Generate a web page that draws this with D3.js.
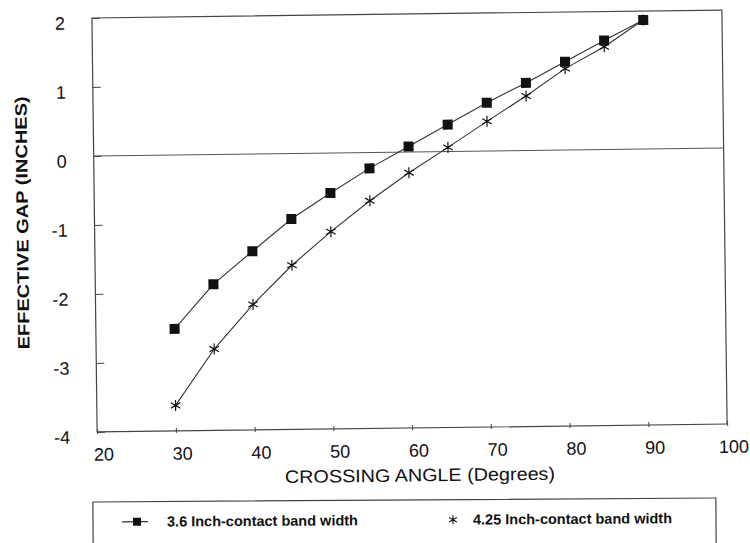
<!DOCTYPE html>
<html>
<head>
<meta charset="utf-8">
<script src="https://cdn.jsdelivr.net/npm/d3@7"></script>
<style>
  body { margin: 0; background: #fff; }
  svg { display: block; font-family: "Liberation Sans", Arial, sans-serif; }
</style>
</head>
<body>
<div id="chart"></div>
<script>
// crossing angle (degrees) for every plotted point
const angles = [30, 35, 40, 45, 50, 55, 60, 65, 70, 75, 80, 85, 90];
// effective gap (inches), 3.6 inch contact band
const gap36 = [-2.52, -1.88, -1.41, -0.95, -0.58, -0.23, 0.08, 0.39, 0.70, 0.98, 1.28, 1.58, 1.87];
// effective gap (inches), 4.25 inch contact band
const gap425 = [-3.63, -2.82, -2.18, -1.62, -1.14, -0.70, -0.30, 0.06, 0.43, 0.79, 1.18, 1.49, 1.87];
const xTicks = [20, 30, 40, 50, 60, 70, 80, 90, 100];
const yTicks = [-4, -3, -2, -1, 0, 1, 2];
const seriesNames = ['3.6 Inch-contact band width', '4.25 Inch-contact band width'];

const width = 750, height = 543;
const plot = { left: 94.5, right: 724.5, top: 14, bottom: 428 };

const svg = d3.select('#chart').append('svg')
  .attr('width', width)
  .attr('height', height);

// the scanned page sits slightly skewed
const g = svg.append('g')
  .attr('transform', 'rotate(-0.72, 409.5, 220)');

const x = d3.scaleLinear().domain([20, 100]).range([plot.left, plot.right]);
const y = d3.scaleLinear().domain([-4, 2]).range([plot.bottom, plot.top]);

// star marker: vertical bar plus two slanted bars
function starPath(r) {
  const dx = r * Math.cos(Math.PI / 6), dy = r * Math.sin(Math.PI / 6);
  return `M0,${-r}L0,${r}M${-dx},${-dy}L${dx},${dy}M${-dx},${dy}L${dx},${-dy}`;
}

// frame
g.append('rect')
  .attr('x', plot.left)
  .attr('y', plot.top)
  .attr('width', plot.right - plot.left)
  .attr('height', plot.bottom - plot.top)
  .attr('fill', 'none')
  .attr('stroke', '#444')
  .attr('stroke-width', 1.2);

// zero line
g.append('line')
  .attr('x1', x(20)).attr('x2', x(100))
  .attr('y1', y(0)).attr('y2', y(0))
  .attr('stroke', '#555')
  .attr('stroke-width', 1);

// x axis
const xAxis = g.append('g')
  .attr('transform', `translate(0,${plot.bottom})`)
  .call(d3.axisBottom(x).tickValues(xTicks).tickFormat((d) => String(d))
    .tickSizeInner(-3).tickSizeOuter(0).tickPadding(16));
xAxis.select('.domain').remove();
xAxis.selectAll('.tick line').attr('stroke', '#444').attr('y2', 2).attr('y1', -3);
xAxis.selectAll('.tick text')
  .attr('dx', 6)
  .attr('font-size', 18)
  .attr('font-family', '"Liberation Sans", Arial, sans-serif')
  .attr('fill', '#111');

// y axis
const yAxis = g.append('g')
  .attr('transform', `translate(${plot.left},0)`)
  .call(d3.axisLeft(y).tickValues(yTicks).tickFormat((d) => String(d))
    .tickSizeInner(-8).tickSizeOuter(0).tickPadding(27));
yAxis.select('.domain').remove();
yAxis.selectAll('.tick line').attr('stroke', '#444');
yAxis.selectAll('.tick text')
  .attr('y', 5)
  .attr('font-size', 18)
  .attr('font-family', '"Liberation Sans", Arial, sans-serif')
  .attr('fill', '#111');

// axis titles
g.append('text')
  .attr('x', 416.8)
  .attr('y', 481.5)
  .attr('text-anchor', 'middle')
  .attr('font-size', 18)
  .attr('textLength', 270)
  .attr('lengthAdjust', 'spacingAndGlyphs')
  .attr('fill', '#111')
  .text('CROSSING ANGLE (Degrees)');

g.append('text')
  .attr('transform', 'translate(28,218) rotate(-90)')
  .attr('text-anchor', 'middle')
  .attr('font-size', 16.5)
  .attr('font-weight', 'bold')
  .attr('textLength', 253)
  .attr('lengthAdjust', 'spacingAndGlyphs')
  .attr('fill', '#111')
  .text('EFFECTIVE GAP (INCHES)');

// lines
const line = d3.line()
  .x((d) => x(d[0]))
  .y((d) => y(d[1]));

const pts36 = angles.map((a, i) => [a, gap36[i]]);
const pts425 = angles.map((a, i) => [a, gap425[i]]);

g.append('path')
  .datum(pts425)
  .attr('d', line)
  .attr('fill', 'none')
  .attr('stroke', '#333')
  .attr('stroke-width', 1.1);

g.append('path')
  .datum(pts36)
  .attr('d', line)
  .attr('fill', 'none')
  .attr('stroke', '#333')
  .attr('stroke-width', 1.1);

// markers
g.selectAll('.star')
  .data(pts425)
  .enter().append('path')
  .attr('class', 'star')
  .attr('transform', (d) => `translate(${x(d[0])},${y(d[1])})`)
  .attr('d', starPath(5.5))
  .attr('fill', 'none')
  .attr('stroke', '#111')
  .attr('stroke-width', 1.2);

g.selectAll('.sq')
  .data(pts36)
  .enter().append('rect')
  .attr('class', 'sq')
  .attr('x', (d) => x(d[0]) - 5)
  .attr('y', (d) => y(d[1]) - 5)
  .attr('width', 10)
  .attr('height', 10)
  .attr('fill', '#111');

// legend
const legend = svg.append('g')
  .attr('transform', 'rotate(-0.37, 404, 520)');

legend.append('rect')
  .attr('x', 93)
  .attr('y', 500)
  .attr('width', 623)
  .attr('height', 60)
  .attr('fill', 'none')
  .attr('stroke', '#444')
  .attr('stroke-width', 1.2);

legend.append('line')
  .attr('x1', 122).attr('x2', 148)
  .attr('y1', 520).attr('y2', 520)
  .attr('stroke', '#333')
  .attr('stroke-width', 1.2);

legend.append('rect')
  .attr('x', 133).attr('y', 516)
  .attr('width', 8).attr('height', 8)
  .attr('fill', '#111');

legend.append('path')
  .attr('transform', 'translate(453,520)')
  .attr('d', starPath(4.5))
  .attr('fill', 'none')
  .attr('stroke', '#111')
  .attr('stroke-width', 1.1);

legend.selectAll('.lbl')
  .data(seriesNames)
  .enter().append('text')
  .attr('class', 'lbl')
  .attr('x', (d, i) => i === 0 ? 167 : 473)
  .attr('y', 525)
  .attr('font-size', 14.5)
  .attr('font-weight', 'bold')
  .attr('fill', '#111')
  .text((d) => d);
</script>
</body>
</html>
